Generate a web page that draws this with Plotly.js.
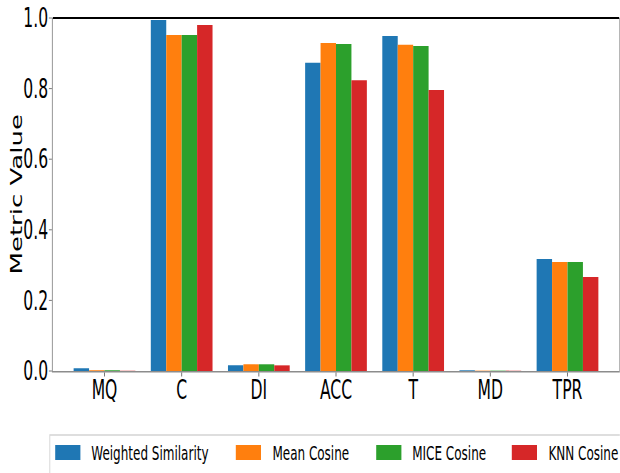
<!DOCTYPE html>
<html>
<head>
<meta charset="utf-8">
<script src="https://cdn.plot.ly/plotly-3.0.1.min.js"></script>
<style>
html,body{margin:0;padding:0;background:#fff;}
#wrap{width:620px;height:473px;overflow:hidden;position:relative;}
#plot{width:1033px;height:473px;transform:scaleX(0.6);transform-origin:0 0;}
</style>
</head>
<body>
<div id="wrap"><div id="plot"></div></div>
<script>
// ---- data ----
const categories = ["MQ", "C", "DI", "ACC", "T", "MD", "TPR"];
const seriesNames = ["Weighted Similarity", "Mean Cosine", "MICE Cosine", "KNN Cosine"];
const weightedSimilarity = [0.008, 0.994, 0.016, 0.873, 0.949, 0.002, 0.317];
const meanCosine        = [0.002, 0.952, 0.019, 0.929, 0.924, 0.001, 0.309];
const miceCosine        = [0.002, 0.952, 0.019, 0.926, 0.921, 0.001, 0.309];
const knnCosine         = [0.001, 0.980, 0.016, 0.824, 0.796, 0.001, 0.266];
const yTicks = [0.0, 0.2, 0.4, 0.6, 0.8, 1.0];
const yTitle = "Metric Value";

// ---- styles ----
const colors = ["#1f77b4", "#ff7f0e", "#2ca02c", "#d62728"];
const seriesValues = [weightedSimilarity, meanCosine, miceCosine, knnCosine];
const FONT = "DejaVu Sans, Liberation Sans, sans-serif";

const W = 1033, H = 473;
const margin = {l: 88, r: 1, t: 18, b: 102};
const plotW = W - margin.l - margin.r;
const plotH = H - margin.t - margin.b;
// convert unscaled pixel coords to paper coords
const px2x = p => (p - margin.l) / plotW;
const py2y = p => (H - margin.b - p) / plotH;

const traces = seriesNames.map((name, i) => ({
  type: "bar",
  name: name,
  x: categories,
  y: seriesValues[i],
  marker: {color: colors[i], line: {width: 0}},
  showlegend: false
}));

// custom matplotlib-like legend (positions in unscaled pixels)
const legendPatchX = [92, 393, 627, 853];
const legendTextX = [150, 452, 685, 912];
const shapes = [
  {type: "rect", xref: "paper", yref: "paper",
   x0: px2x(83), x1: px2x(1100), y0: py2y(435), y1: py2y(520),
   line: {color: "#d4d4d4", width: 1.5}, fillcolor: "rgba(255,255,255,0.8)", layer: "above"},
  {type: "line", xref: "paper", yref: "paper", x0: 0, x1: 1, y0: 1, y1: 1,
   line: {color: "#000000", width: 2}, layer: "above"}
];
const annotations = [
  {xref: "paper", yref: "paper", x: px2x(28), y: 0.5, xanchor: "center", yanchor: "middle",
   textangle: -90, showarrow: false, text: yTitle,
   font: {family: FONT, size: 26, color: "#000"}}
];
seriesNames.forEach((name, i) => {
  shapes.push({type: "rect", xref: "paper", yref: "paper",
    x0: px2x(legendPatchX[i]), x1: px2x(legendPatchX[i] + 42),
    y0: py2y(445), y1: py2y(460),
    line: {width: 0}, fillcolor: colors[i], layer: "above"});
  annotations.push({xref: "paper", yref: "paper",
    x: px2x(legendTextX[i]), y: py2y(452.5),
    xanchor: "left", yanchor: "middle", showarrow: false,
    text: name, font: {family: FONT, size: 20, color: "#000"}});
});

const layout = {
  width: W, height: H,
  margin: margin,
  paper_bgcolor: "#fff", plot_bgcolor: "#fff",
  barmode: "group", bargap: 0.2, bargroupgap: 0,
  font: {family: FONT, color: "#000"},
  xaxis: {
    range: [-0.67, 6.67],
    showgrid: false, zeroline: false,
    showline: true, linecolor: "#8c8c8c", linewidth: 1.5, mirror: false,
    ticks: "outside", ticklen: 4, tickwidth: 1, tickcolor: "#555",
    ticklabelstandoff: -9,
    tickfont: {family: FONT, size: 26, color: "#000"}
  },
  yaxis: {
    range: [0, 1.0],
    tickvals: yTicks, tickformat: ".1f",
    showgrid: false, zeroline: false,
    showline: true, linecolor: "#8c8c8c", linewidth: 1.5, mirror: true,
    ticks: "outside", ticklen: 5, tickwidth: 1, tickcolor: "#555",
    ticklabelstandoff: -4,
    tickfont: {family: FONT, size: 26, color: "#000"}
  },
  shapes: shapes,
  annotations: annotations
};

Plotly.newPlot("plot", traces, layout, {staticPlot: true, displayModeBar: false});
</script>
</body>
</html>
